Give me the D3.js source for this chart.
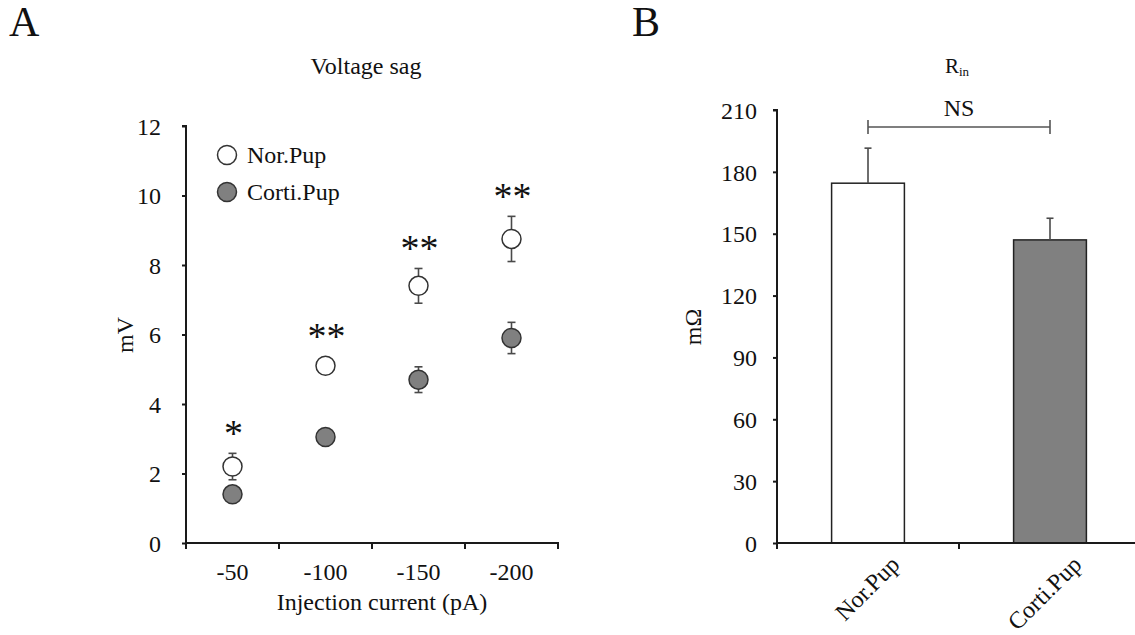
<!DOCTYPE html>
<html>
<head>
<meta charset="utf-8">
<script src="https://cdn.jsdelivr.net/npm/d3@7"></script>
<style>
  html, body { margin: 0; padding: 0; background: #fff; }
  svg, svg text { font-family: "Liberation Serif", "Times New Roman", Times, "DejaVu Serif", serif; }
  svg { display: block; }
  text { fill: #111; }
</style>
</head>
<body>
<svg id="chart" width="1135" height="635"></svg>
<script>
// Panel A: voltage sag vs injection current
const currents = ["-50", "-100", "-150", "-200"];
const norSag = [2.2, 5.1, 7.4, 8.75];
const norSagErr = [0.38, 0.15, 0.5, 0.65];
const cortiSag = [1.4, 3.05, 4.7, 5.9];
const cortiSagErr = [0.12, 0.12, 0.37, 0.45];
const sagStars = ["*", "**", "**", "**"];
const sagTicks = [0, 2, 4, 6, 8, 10, 12];

// Panel B: input resistance
const groups = ["Nor.Pup", "Corti.Pup"];
const rin = [174.5, 147];
const rinErr = [17, 10.5];
const rinTicks = [0, 30, 60, 90, 120, 150, 180, 210];

const FONT = '"Liberation Serif", "Times New Roman", Times, "DejaVu Serif", serif';
const svg = d3.select("#chart").attr("font-family", FONT);
const ink = "#1a1a1a";
const errInk = "#4a4a4a";
const grey = "#808080";

// Panel letters
svg.append("text").attr("x", 9).attr("y", 36).attr("font-size", 42).text("A");
svg.append("text").attr("x", 632).attr("y", 36).attr("font-size", 42).text("B");

// ---------- Panel A ----------
const xA = d3.scaleBand().domain(currents).range([186, 558]);
const yA = d3.scaleLinear().domain([0, 12]).range([543, 126]);

const gA = svg.append("g");

gA.append("text").attr("x", 366).attr("y", 74).attr("text-anchor", "middle")
  .attr("font-size", 24).text("Voltage sag");

// y axis
const yAxisA = d3.axisLeft(yA).tickValues(sagTicks).tickSize(4).tickPadding(21)
  .tickFormat(d3.format("d"));
const gyA = gA.append("g").attr("transform", "translate(186,0)").call(yAxisA)
  .attr("font-family", FONT);
gyA.select(".domain").attr("stroke", ink).attr("stroke-width", 2).attr("d", `M-4,${yA(12)}H0V${yA(0)}`);
gyA.selectAll(".tick line").attr("stroke", ink).attr("stroke-width", 2);
gyA.selectAll(".tick text").attr("font-size", 24).attr("fill", ink).attr("dy", "0.34em");

// x axis: baseline with ticks at band boundaries, labels at band centres
const xEdges = currents.map(c => xA(c)).concat([xA(currents[currents.length - 1]) + xA.bandwidth()]);
gA.append("line").attr("x1", 185).attr("x2", 559).attr("y1", yA(0)).attr("y2", yA(0))
  .attr("stroke", ink).attr("stroke-width", 2);
gA.selectAll(".xtickA").data(xEdges).join("line")
  .attr("x1", d => d).attr("x2", d => d).attr("y1", yA(0)).attr("y2", yA(0) + 6)
  .attr("stroke", ink).attr("stroke-width", 2);
gA.selectAll(".xlabA").data(currents).join("text")
  .attr("x", d => xA(d) + xA.bandwidth() / 2).attr("y", 580)
  .attr("text-anchor", "middle").attr("font-size", 24).text(d => d);

gA.append("text").attr("x", 382).attr("y", 610).attr("text-anchor", "middle")
  .attr("font-size", 24).text("Injection current (pA)");
gA.append("text").attr("transform", "translate(133,335) rotate(-90)")
  .attr("text-anchor", "middle").attr("font-size", 24).text("mV");

const cx = i => xA(currents[i]) + xA.bandwidth() / 2;
const R = 9.5;

function drawSeries(vals, errs, fill) {
  const g = gA.append("g");
  vals.forEach((v, i) => {
    const x = cx(i), top = yA(v + errs[i]), bot = yA(v - errs[i]);
    g.append("line").attr("x1", x).attr("x2", x).attr("y1", top).attr("y2", bot)
      .attr("stroke", errInk).attr("stroke-width", 1.6);
    [top, bot].forEach(yy => g.append("line").attr("x1", x - 4).attr("x2", x + 4)
      .attr("y1", yy).attr("y2", yy).attr("stroke", errInk).attr("stroke-width", 1.6));
  });
  g.selectAll("circle").data(vals).join("circle")
    .attr("cx", (d, i) => cx(i)).attr("cy", d => yA(d)).attr("r", R)
    .attr("fill", fill).attr("stroke", "#333").attr("stroke-width", 1.5);
}
drawSeries(cortiSag, cortiSagErr, grey);
drawSeries(norSag, norSagErr, "#fff");

// significance marks above the upper point of each pair
gA.selectAll(".star").data(sagStars).join("text")
  .attr("x", (d, i) => cx(i) + 1)
  .attr("y", (d, i) => Math.min(yA(norSag[i] + norSagErr[i]), yA(norSag[i]) - R) - 21 + 14)
  .attr("text-anchor", "middle").attr("font-size", 38)
  .text(d => d);

// legend
const legend = gA.append("g");
[["Nor.Pup", "#fff"], ["Corti.Pup", grey]].forEach(([name, fill], i) => {
  const y = 155 + i * 37;
  legend.append("circle").attr("cx", 227).attr("cy", y).attr("r", R)
    .attr("fill", fill).attr("stroke", "#333").attr("stroke-width", 1.5);
  legend.append("text").attr("x", 247).attr("y", y + 8).attr("font-size", 24).text(name);
});

// ---------- Panel B ----------
const xB = d3.scaleBand().domain(groups).range([777, 1141]).paddingInner(0.6).paddingOuter(0.3);
const yB = d3.scaleLinear().domain([0, 210]).range([543, 110]);
const gB = svg.append("g");

const title = gB.append("text").attr("x", 957).attr("y", 73).attr("text-anchor", "middle");
title.append("tspan").attr("font-size", 21).text("R");
title.append("tspan").attr("font-size", 13).attr("dy", 3).text("in");

const yAxisB = d3.axisLeft(yB).tickValues(rinTicks).tickSize(4).tickPadding(16)
  .tickFormat(d3.format("d"));
const gyB = gB.append("g").attr("transform", "translate(777,0)").call(yAxisB)
  .attr("font-family", FONT);
gyB.select(".domain").attr("stroke", ink).attr("stroke-width", 2).attr("d", `M-4,${yB(210)}H0V${yB(0)}`);
gyB.selectAll(".tick line").attr("stroke", ink).attr("stroke-width", 2);
gyB.selectAll(".tick text").attr("font-size", 24).attr("fill", ink).attr("dy", "0.34em");

gB.append("text").attr("transform", "translate(701,327) rotate(-90)")
  .attr("text-anchor", "middle").attr("font-size", 24).text("mΩ");

// bars
gB.selectAll(".bar").data(rin).join("rect")
  .attr("x", (d, i) => xB(groups[i])).attr("width", xB.bandwidth())
  .attr("y", d => yB(d)).attr("height", d => yB(0) - yB(d))
  .attr("fill", (d, i) => i === 0 ? "#fff" : grey)
  .attr("stroke", "#222").attr("stroke-width", 1.5);

// upward error bars
rin.forEach((v, i) => {
  const x = xB(groups[i]) + xB.bandwidth() / 2;
  gB.append("line").attr("x1", x).attr("x2", x).attr("y1", yB(v)).attr("y2", yB(v + rinErr[i]))
    .attr("stroke", errInk).attr("stroke-width", 1.6);
  gB.append("line").attr("x1", x - 3.5).attr("x2", x + 3.5)
    .attr("y1", yB(v + rinErr[i])).attr("y2", yB(v + rinErr[i]))
    .attr("stroke", errInk).attr("stroke-width", 1.6);
});

// x axis
gB.append("line").attr("x1", 776).attr("x2", 1135).attr("y1", yB(0)).attr("y2", yB(0))
  .attr("stroke", ink).attr("stroke-width", 2);
[xB.range()[0], (xB.range()[0] + xB.range()[1]) / 2].forEach(x =>
  gB.append("line").attr("x1", x).attr("x2", x).attr("y1", yB(0)).attr("y2", yB(0) + 6)
    .attr("stroke", ink).attr("stroke-width", 2));
gB.selectAll(".xlabB").data(groups).join("text")
  .attr("transform", d => `translate(${xB(d) + xB.bandwidth() / 2 + 33},566) rotate(-45)`)
  .attr("text-anchor", "end").attr("font-size", 24).text(d => d);

// NS bracket between the two bars
const c0 = xB(groups[0]) + xB.bandwidth() / 2, c1 = xB(groups[1]) + xB.bandwidth() / 2;
const by = 127;
gB.append("path").attr("d", `M${c0},${by - 7}V${by + 7}M${c0},${by}H${c1}M${c1},${by - 7}V${by + 7}`)
  .attr("fill", "none").attr("stroke", "#555").attr("stroke-width", 1.6);
gB.append("text").attr("x", (c0 + c1) / 2).attr("y", 116).attr("text-anchor", "middle")
  .attr("font-size", 24).text("NS");
</script>
</body>
</html>
